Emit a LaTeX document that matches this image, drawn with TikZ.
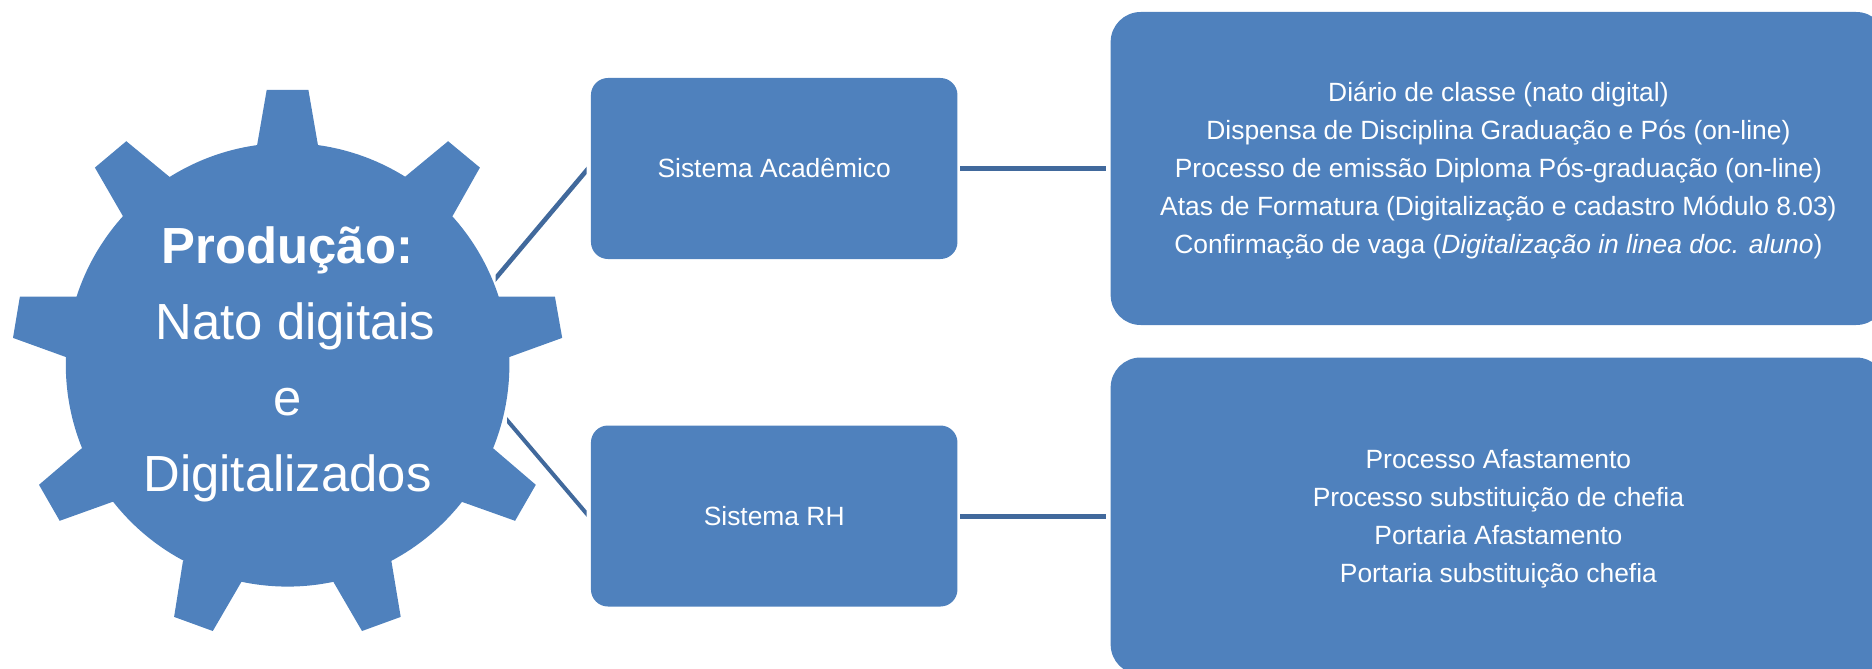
\documentclass[tikz,border=0pt]{standalone}
\usepackage{fontspec}
\setmainfont{Liberation Sans}
\usetikzlibrary{calc}
\definecolor{boxblue}{HTML}{4F81BD}
\definecolor{linkblue}{HTML}{41699C}
\tikzset{
  sysbox/.style={fill=boxblue,draw=none,rounded corners=17pt,text=white,minimum width=366.5pt,minimum height=181pt,inner sep=0pt,align=center,font=\fontsize{26.4}{38}\selectfont},
  detailbox/.style={fill=boxblue,draw=none,rounded corners=30pt,text=white,minimum width=775.5pt,inner sep=0pt,align=center,font=\fontsize{26.4}{38}\selectfont},
  hlink/.style={draw=linkblue,line width=5pt,shorten <=2.5pt,shorten >=4.6pt},
  dlinkup/.style={draw=linkblue,line width=4.6pt},
  dlinkdown/.style={draw=linkblue,line width=4pt},
  gearshape/.style={fill=boxblue,draw=none},
  geartext/.style={text=white,align=center,inner sep=0pt,font=\fontsize{50.8}{76}\selectfont}
}
\newcommand{\geararc}[2]{-- plot[domain=#1:#2,samples=24] ({287.6+221.8*cos(\x)},{364.8-221.8*sin(\x)})}
\newcommand{\toppad}{\rule{0pt}{24pt}}
\begin{document}
\begin{tikzpicture}[x=1pt,y=-1pt]
\path[use as bounding box] (0,0) rectangle (1872,669);
% gear
\path[gearshape] (266.7,89.9) -- (308.4,89.9) -- (318,145.4)
  \geararc{82.1}{58} -- (448.1,141.2) -- (479.9,167.6) -- (452.7,215.8)
  \geararc{42.07}{17.9} -- (554.9,296.6) -- (562.2,337.9) -- (509.4,357)
  \geararc{2}{-22.1} -- (535.8,484.8) -- (515.1,520.8) -- (462.3,502)
  \geararc{-38.1}{-62.1} -- (400.7,616.9) -- (362,631) -- (333.7,582.4)
  \geararc{-78}{-102} -- (212.8,631) -- (174.1,616.9) -- (182.9,561.4)
  \geararc{-117.9}{-141.9} -- (59.7,520.8) -- (39,484.8) -- (81.5,448.5)
  \geararc{-157.9}{-182} -- (13,337.9) -- (19.9,296.6) -- (76.5,296.6)
  \geararc{-197.9}{-222.07} -- (94.9,167.6) -- (126.3,141.2) -- (169.9,177.2)
  \geararc{-238}{-262.1} -- cycle;
\node[geartext] (gear) at (287.5,364) {\textbf{Produção:}\\\hspace{16pt}Nato digitais\\e\\Digitalizados};
% boxes
\node[sysbox] (sa) at (774.2,168.5) {Sistema Acadêmico};
\node[sysbox] (rh) at (774.2,516) {Sistema RH};
\begin{scope}
\clip (0,0) rectangle (1872,670);
\node[detailbox,minimum height=313pt] (d1) at (1498.4,168.5) {\toppad Diário de classe (nato digital)\\Dispensa de Disciplina Graduação e Pós (on-line)\\Processo de emissão Diploma Pós-graduação (on-line)\\Atas de Formatura (Digitalização e cadastro Módulo 8.03)\\Confirmação de vaga (\textit{Digitalização in linea doc. aluno})};
\node[detailbox,minimum height=317pt] (d2) at (1498.4,516) {\toppad Processo Afastamento\\Processo substituição de chefia\\Portaria Afastamento\\Portaria substituição chefia};
\end{scope}
% connectors
\draw[hlink] (sa.east) -- (d1.west);
\draw[hlink] (rh.east) -- (d2.west);
\coordinate (gu) at (490,285);
\coordinate (su) at (592,164);
\coordinate (gd) at (501,413);
\coordinate (sd) at (592,520);
\begin{scope}
\clip (495.6,100) rectangle (586.7,400);
\draw[dlinkup] (gu) -- (su);
\end{scope}
\begin{scope}
\clip (507,380) rectangle (586.7,600);
\draw[dlinkdown] (gd) -- (sd);
\end{scope}
\end{tikzpicture}
\end{document}
